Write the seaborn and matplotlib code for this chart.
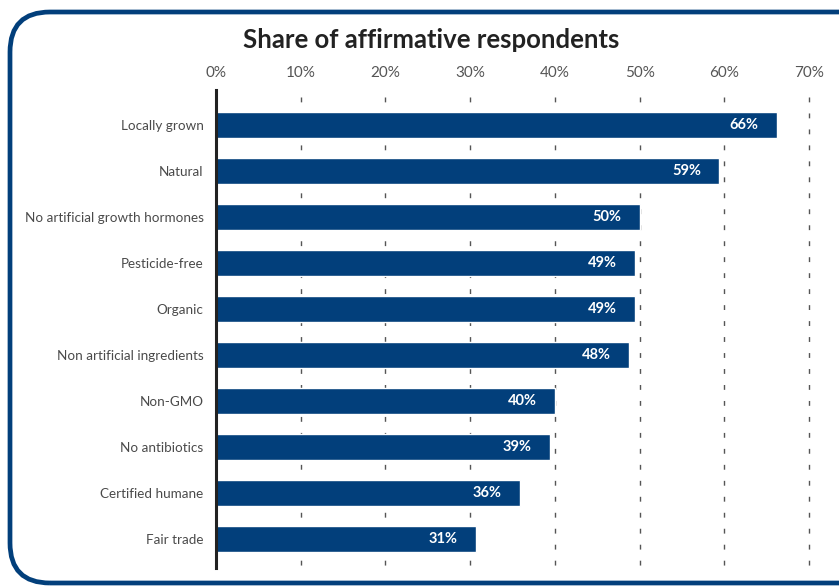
import matplotlib
matplotlib.use("Agg")
import matplotlib.pyplot as plt
import seaborn as sns
import pandas as pd
from matplotlib.patches import FancyBboxPatch
from matplotlib.transforms import IdentityTransform
from matplotlib.ticker import FuncFormatter

categories = ["Locally grown", "Natural", "No artificial growth hormones", "Pesticide-free",
              "Organic", "Non artificial ingredients", "Non-GMO", "No antibiotics",
              "Certified humane", "Fair trade"]
values = [66.2, 59.4, 50.0, 49.5, 49.5, 48.8, 40.0, 39.4, 35.9, 30.7]
labels = ["66%", "59%", "50%", "49%", "49%", "48%", "40%", "39%", "36%", "31%"]
ticks = [0, 10, 20, 30, 40, 50, 60, 70]
title = "Share of affirmative respondents"

sns.set_theme(style="white")
plt.rcParams['font.family'] = ['Lato', 'DejaVu Sans']

BLUE = "#023f7b"
df = pd.DataFrame({"cat": categories, "val": values})

fig = plt.figure(figsize=(8.39, 5.87), dpi=100)
W, H = 839, 587
ax = fig.add_axes([216 / W, 1 - 568 / H, (809 - 216) / W, (568 - 90) / H])

# rounded frame
frame = FancyBboxPatch((10, 4), 880, 571, boxstyle="round,pad=0,rounding_size=40",
                       transform=IdentityTransform(), facecolor="none",
                       edgecolor=BLUE, linewidth=3.4, zorder=0)
fig.patches.append(frame)

sns.barplot(data=df, x="val", y="cat", orient="h", color=BLUE, width=0.56,
            saturation=1, ax=ax, zorder=3)

ax.set_xlim(0, 70)
ax.set_ylim(9.63, -0.76)
ax.set_xticks(ticks)
ax.xaxis.set_major_formatter(FuncFormatter(lambda v, p: f"{int(v)}%"))
ax.xaxis.tick_top()
ax.tick_params(axis="x", length=0, pad=7, labelsize=11, labelcolor="#555555")
ax.tick_params(axis="y", length=0, pad=9, labelsize=9.7, labelcolor="#4a4a4a")
ax.set_xlabel("")
ax.set_ylabel("")

for s in ["top", "right", "bottom"]:
    ax.spines[s].set_visible(False)
ax.spines["left"].set_color("#222222")
ax.spines["left"].set_linewidth(2.2)
ax.spines["left"].set_zorder(5)

for t in ticks[1:]:
    ax.plot([t, t], [-0.6, 9.63], color="#555555", linewidth=1.0,
            linestyle=(0, (3.5, 8)), zorder=1, clip_on=False)

for i, (v, lab) in enumerate(zip(values, labels)):
    ax.annotate(lab, xy=(v, i), xytext=(-13, 0), textcoords="offset points",
                ha="right", va="center", color="white", fontweight="bold",
                fontsize=10.5, zorder=6)

fig.text(431 / W, 1 - 40 / H, title, ha="center", va="center",
         fontsize=18.5, fontweight="bold", color="#222222")

fig.savefig("out.png", dpi=100)
